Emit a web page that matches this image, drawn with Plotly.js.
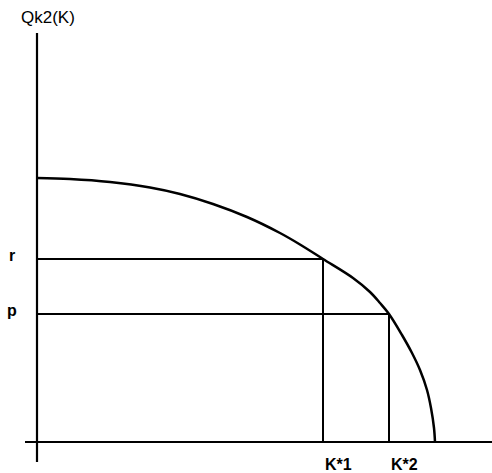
<!DOCTYPE html>
<html>
<head>
<meta charset="utf-8">
<script src="https://cdn.plot.ly/plotly-3.0.1.min.js"></script>
<style>html,body{margin:0;padding:0;background:#fff;}#chart{width:492px;height:473px;}</style>
</head>
<body>
<div id="chart"></div>
<script>
// Curve Qk2(K) (K, Qk2)
const curveK = [0, 33, 73, 113, 143, 176, 210, 243, 263, 286, 316, 333, 343, 352, 365, 375, 383, 390, 394, 397, 398];
const curveQ = [264, 263, 260, 254.5, 248, 238, 225, 209, 197.5, 183, 164, 150, 139, 128, 107, 89, 72, 52, 34, 14, 0];
// Marked levels
const levelNames = ['r', 'p'];
const levelValues = [183, 128];
const kNames = ['K*1', 'K*2'];
const kValues = [286, 352];
const yTitle = 'Qk2(K)';

const FONT = 'Liberation Sans, Arial, sans-serif';
const lineStyle = {color: '#000', width: 2};
const traces = [];
// axes
traces.push({x: [0, 0], y: [409, -20], mode: 'lines', line: {color: '#000', width: 2.2}, hoverinfo: 'skip'});
traces.push({x: [-12, 455], y: [0, 0], mode: 'lines', line: {color: '#000', width: 2.2}, hoverinfo: 'skip'});
// curve
traces.push({x: curveK, y: curveQ, mode: 'lines', line: {color: '#000', width: 2.5, shape: 'spline', smoothing: 1}, hoverinfo: 'skip'});
// guide lines
for (let i = 0; i < kValues.length; i++) {
  traces.push({x: [0, kValues[i], kValues[i]], y: [levelValues[i], levelValues[i], 0], mode: 'lines', line: lineStyle, hoverinfo: 'skip'});
}

const annotations = [];
annotations.push({x: 11, y: 425, xref: 'x', yref: 'y', text: yTitle, showarrow: false,
  font: {family: FONT, size: 17, color: '#000'}});
for (let i = 0; i < levelNames.length; i++) {
  annotations.push({x: -25, y: levelValues[i] + 4, xref: 'x', yref: 'y', text: '<b>' + levelNames[i] + '</b>', showarrow: false,
    font: {family: FONT, size: 16, color: '#000'}});
  annotations.push({x: kValues[i] + 15, y: -22, xref: 'x', yref: 'y', text: '<b>' + kNames[i] + '</b>', showarrow: false,
    font: {family: FONT, size: 16, color: '#000'}});
}

const layout = {
  width: 492, height: 473,
  margin: {l: 0, r: 0, t: 0, b: 0},
  paper_bgcolor: '#fff', plot_bgcolor: '#fff',
  showlegend: false,
  xaxis: {range: [-37, 455], visible: false, fixedrange: true},
  yaxis: {range: [-31, 442], visible: false, fixedrange: true},
  annotations: annotations
};
Plotly.newPlot('chart', traces, layout, {displayModeBar: false, staticPlot: true});
</script>
</body>
</html>
